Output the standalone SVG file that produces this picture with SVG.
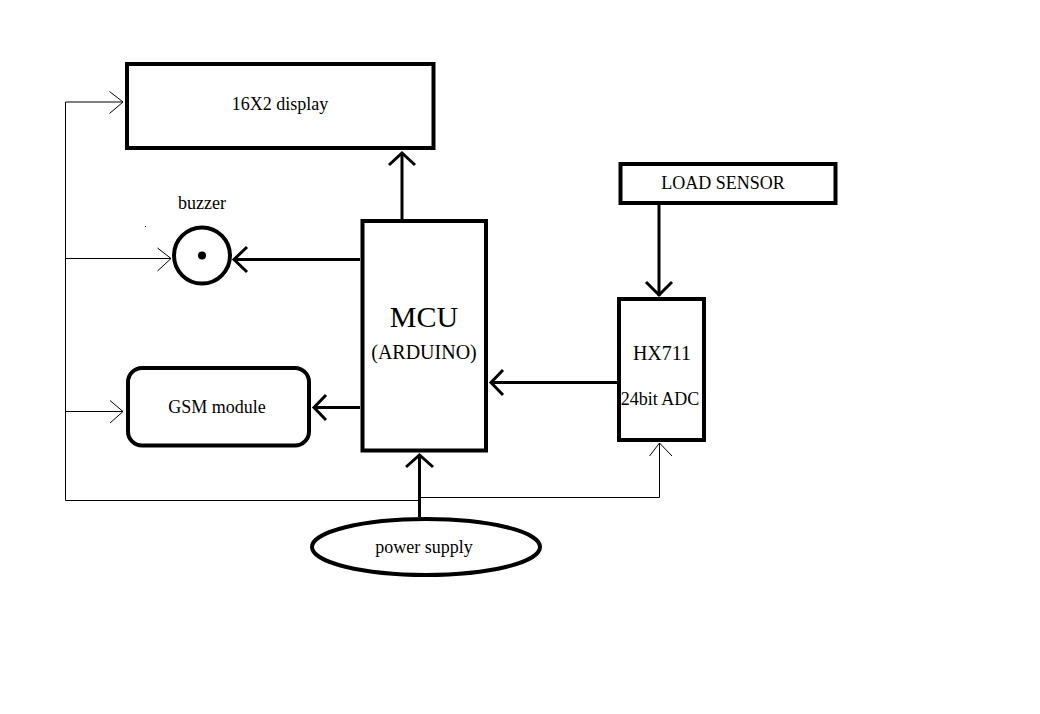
<svg xmlns="http://www.w3.org/2000/svg" width="1040" height="714" viewBox="0 0 1040 714">
<style>
.box{fill:none;stroke:#000;stroke-width:4}
.thick{fill:none;stroke:#000;stroke-width:3;stroke-linecap:butt}
.thin{fill:none;stroke:#000;stroke-width:1}
text{font-family:"Liberation Serif","Times New Roman",serif;fill:#000;text-anchor:middle}
</style>
<rect width="1040" height="714" fill="#fff"/>
<g id="connectors">
  <!-- thin power bus -->
  <polyline class="thin" points="123,102 65.5,102 65.5,500.5 419,500.5"/>
  <line class="thin" x1="65.5" y1="258.5" x2="171" y2="258.5"/>
  <line class="thin" x1="65.5" y1="411.5" x2="123" y2="411.5"/>
  <polyline class="thin" points="419,497.5 659.5,497.5 659.5,443"/>
  <polyline class="thin" points="109.5,91.5 123,102 109.5,113.5"/>
  <polyline class="thin" points="157.5,248 171,258.5 157.5,271"/>
  <polyline class="thin" points="110,400.5 123,411.5 110,423"/>
  <polyline class="thin" points="649.5,456 659.5,443 672,456"/>
  <!-- thick arrows -->
  <line class="thick" x1="402" y1="219" x2="402" y2="153"/>
  <polyline class="thick" points="389,165 402,153 415,165"/>
  <line class="thick" x1="360" y1="259.5" x2="234" y2="259.5"/>
  <polyline class="thick" points="247,247 234,259.5 247,272"/>
  <line class="thick" x1="360" y1="407.5" x2="314" y2="407.5"/>
  <polyline class="thick" points="326,395 314,407.5 326,420"/>
  <line class="thick" x1="617" y1="382.5" x2="491" y2="382.5"/>
  <polyline class="thick" points="503,370 491,382.5 503,395"/>
  <line class="thick" x1="659" y1="205" x2="659" y2="296"/>
  <polyline class="thick" points="646,282 659,295 672,282"/>
  <line class="thick" x1="419.5" y1="517" x2="419.5" y2="455"/>
  <polyline class="thick" points="406,467 419.5,455 433,467"/>
</g>
<g id="display">
  <rect class="box" x="127" y="64" width="306.5" height="84"/>
  <text x="280" y="110" font-size="18">16X2 display</text>
</g>
<g id="buzzer">
  <circle class="box" cx="202" cy="255.5" r="28"/>
  <circle cx="202" cy="255.5" r="4" fill="#000"/>
  <text x="202" y="209" font-size="18">buzzer</text>
  <rect x="145" y="226" width="1" height="1" fill="#000"/>
</g>
<g id="mcu">
  <rect class="box" x="362.5" y="221" width="123.5" height="229.5"/>
  <text x="424" y="327" font-size="30">MCU</text>
  <text x="424" y="359" font-size="20">(ARDUINO)</text>
</g>
<g id="gsm">
  <rect class="box" x="128" y="368" width="181" height="77.5" rx="14" ry="14"/>
  <text x="217" y="413" font-size="18">GSM module</text>
</g>
<g id="load-sensor">
  <rect class="box" x="620.5" y="164" width="215" height="39"/>
  <text x="723" y="189" font-size="18">LOAD SENSOR</text>
</g>
<g id="hx711">
  <rect class="box" x="619" y="299" width="85" height="141"/>
  <text x="662" y="360" font-size="20">HX711</text>
  <text x="660" y="405" font-size="18">24bit ADC</text>
</g>
<g id="power-supply">
  <ellipse class="box" cx="426" cy="547" rx="114" ry="28"/>
  <text x="424" y="553" font-size="18">power supply</text>
</g>
</svg>
